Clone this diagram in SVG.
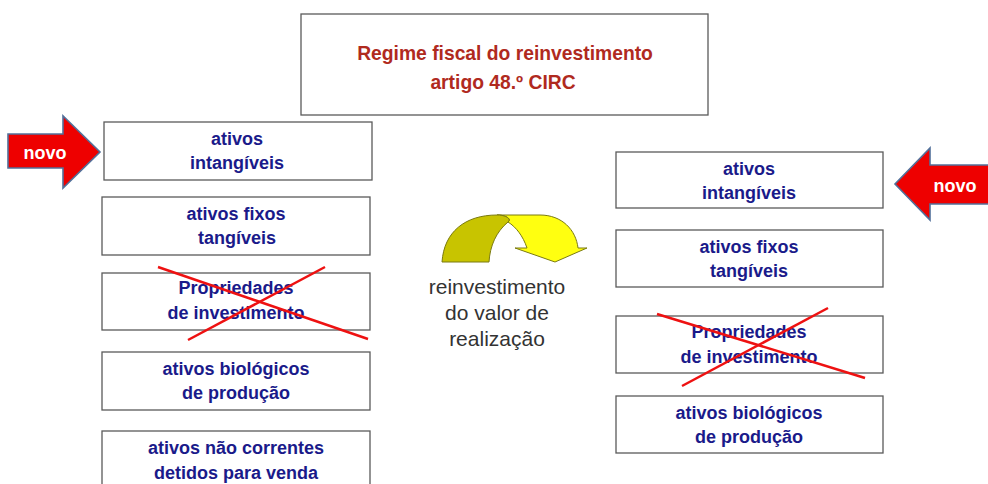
<svg xmlns="http://www.w3.org/2000/svg" width="988" height="484" viewBox="0 0 988 484">
<style>
.box{fill:#fff;stroke:#5a5a5a;stroke-width:1.3}
.bt{font-family:"Liberation Sans",Arial,sans-serif;font-weight:bold;font-size:18px;fill:#1a1a8a;text-anchor:middle}
.tt{font-family:"Liberation Sans",Arial,sans-serif;font-weight:bold;font-size:19.3px;fill:#b02a1e;text-anchor:middle}
.mt{font-family:"Liberation Sans",Arial,sans-serif;font-size:21px;fill:#333;text-anchor:middle}
.nv{fill:#ee0000;stroke:#52709a;stroke-width:1.6}
.nt{font-family:"Liberation Sans",Arial,sans-serif;font-weight:bold;font-size:18px;fill:#fff;text-anchor:middle}
.x{stroke:#ee1111;stroke-width:2.5;fill:none}
</style>
<rect width="988" height="484" fill="#fff"/>
<g id="title"><rect class="box" x="301" y="14" width="407" height="101"/>
<text class="tt" x="505" y="60">Regime fiscal do reinvestimento</text>
<text class="tt" x="503" y="89">artigo 48.º CIRC</text></g>

<g id="novo-left"><polygon class="nv" points="8,134 63,134 63,116 100,152 63,188 63,168 8,168"/>
<text class="nt" x="45" y="159">novo</text></g>
<g id="novo-right"><polygon class="nv" points="990,165 930,165 930,148 895,184 930,220 930,204 990,204"/>
<text class="nt" x="955" y="192">novo</text></g>

<g id="L1"><rect class="box" x="104" y="122" width="268" height="58"/>
<text class="bt" x="237" y="145">ativos</text><text class="bt" x="237" y="169">intangíveis</text></g>
<g id="L2"><rect class="box" x="102" y="197" width="268" height="58"/>
<text class="bt" x="236" y="220">ativos fixos</text><text class="bt" x="237" y="244">tangíveis</text></g>
<g id="L3"><rect class="box" x="102" y="273" width="268" height="57"/>
<text class="bt" x="236" y="294">Propriedades</text><text class="bt" x="236" y="319">de investimento</text>
<line class="x" x1="158" y1="267" x2="368" y2="339"/><line class="x" x1="325" y1="267" x2="188" y2="340"/></g>
<g id="L4"><rect class="box" x="102" y="352" width="268" height="58"/>
<text class="bt" x="236" y="375">ativos biológicos</text><text class="bt" x="236" y="399">de produção</text></g>
<g id="L5"><rect class="box" x="102" y="431" width="268" height="60"/>
<text class="bt" x="236" y="454">ativos não correntes</text><text class="bt" x="236" y="479">detidos para venda</text></g>

<g id="R1"><rect class="box" x="616" y="152" width="267" height="56"/>
<text class="bt" x="749" y="175">ativos</text><text class="bt" x="749" y="199">intangíveis</text></g>
<g id="R2"><rect class="box" x="616" y="230" width="267" height="57"/>
<text class="bt" x="749" y="253">ativos fixos</text><text class="bt" x="749" y="277">tangíveis</text></g>
<g id="R3"><rect class="box" x="616" y="316" width="267" height="57"/>
<text class="bt" x="749" y="338">Propriedades</text><text class="bt" x="749" y="363">de investimento</text>
<line class="x" x1="657" y1="314" x2="865" y2="378"/><line class="x" x1="828" y1="308" x2="682" y2="386"/></g>
<g id="R4"><rect class="box" x="616" y="396" width="267" height="57"/>
<text class="bt" x="749" y="419">ativos biológicos</text><text class="bt" x="749" y="443">de produção</text></g>

<g id="reinvest">
<path d="M497,215 L540,215 C562,215 576,230 578,248 L587,248 L555,262 L515,248 L527,248 C523,236 516,227 508,222 C512,219 506,215 497,215 Z" fill="#ffff10" stroke="#7a7a10" stroke-width="1"/>
<path d="M442,262 C444,232 465,215 497,215 C506,215 512,219 508,222 C496,232 490,246 489,262 Z" fill="#c8c400" stroke="#7a7a10" stroke-width="1"/>
<text class="mt" x="497" y="294">reinvestimento</text>
<text class="mt" x="497" y="320">do valor de</text>
<text class="mt" x="497" y="346">realização</text>
</g>
</svg>
